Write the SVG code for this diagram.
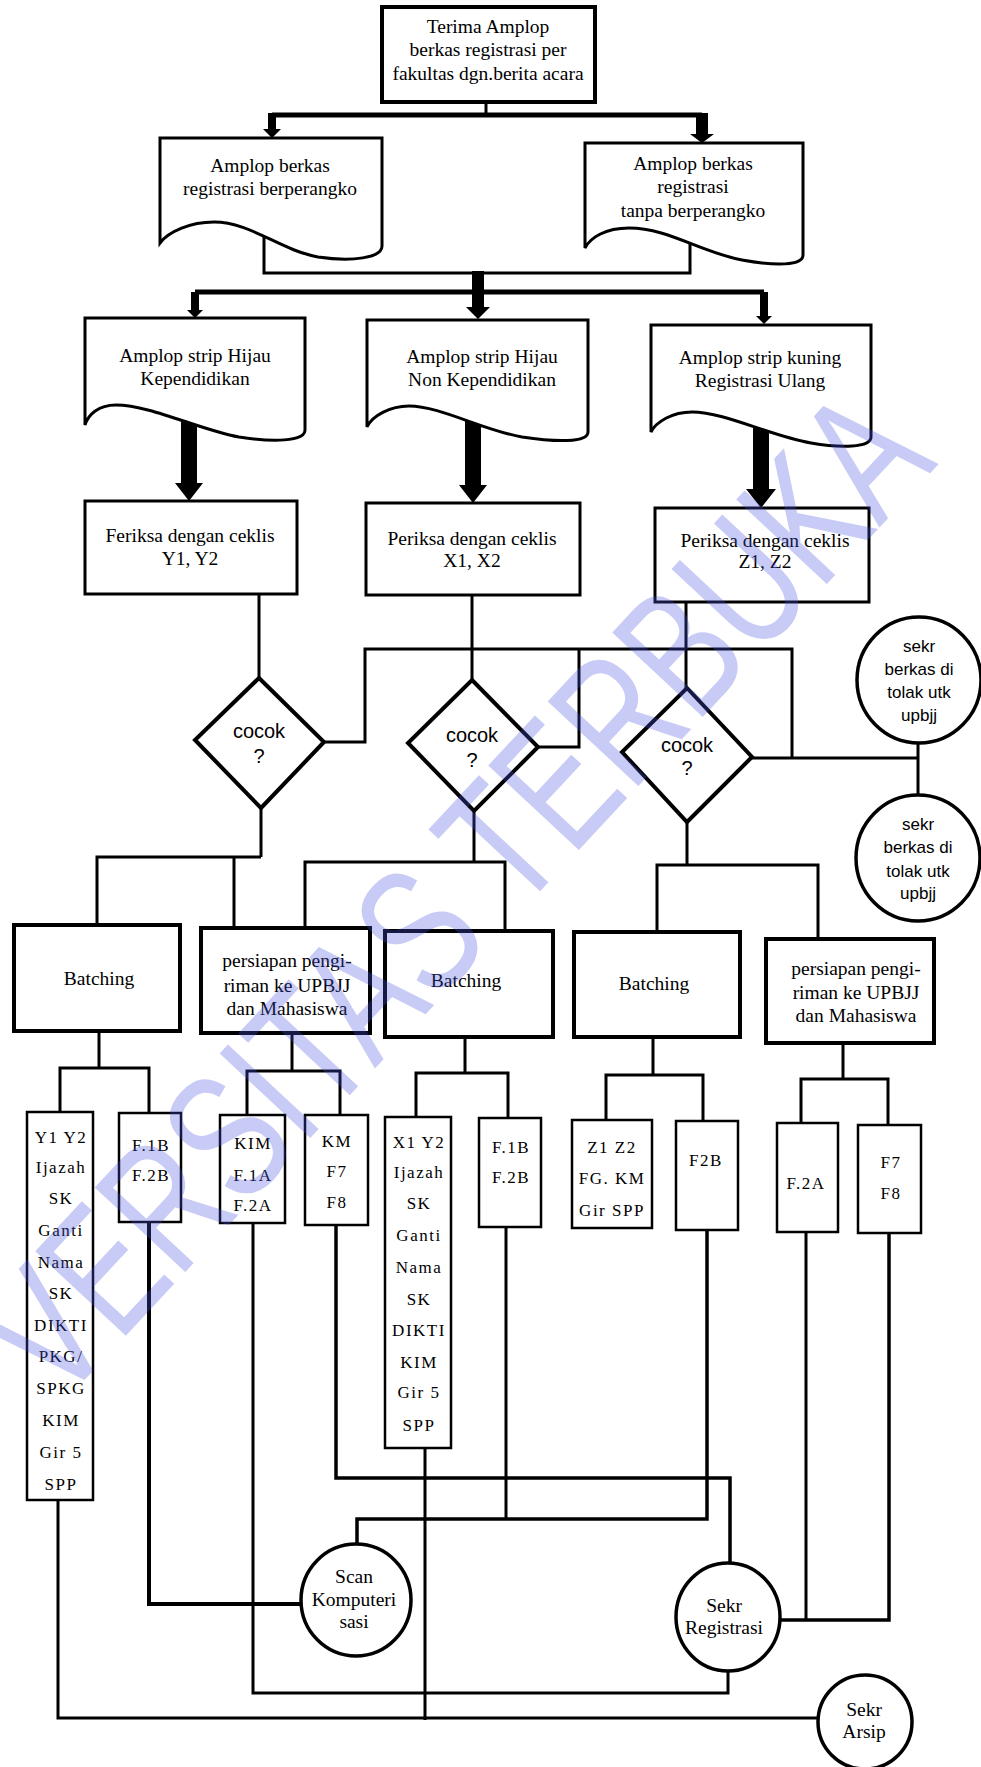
<svg xmlns="http://www.w3.org/2000/svg" width="981" height="1767" viewBox="0 0 981 1767">
<style>
.ln{fill:none;stroke:#000;stroke-width:3}
.tk{fill:none;stroke:#000;stroke-width:5}
.ar{fill:#000;stroke:none}
.box{fill:#fff;stroke:#000;stroke-width:3}
.bbox{fill:#fff;stroke:#000;stroke-width:4}
.sbox{fill:#fff;stroke:#000;stroke-width:2.5}
.dia{fill:#fff;stroke:#000;stroke-width:4}
.cir{fill:#fff;stroke:#000;stroke-width:3.5}
.t{font-family:"Liberation Serif",serif;font-size:19.5px;text-anchor:middle;fill:#000}
.c{font-family:"Liberation Sans",sans-serif;font-size:20px;text-anchor:middle;fill:#000}
.s{font-family:"Liberation Sans",sans-serif;font-size:17px;text-anchor:middle;fill:#000}
.sm{font-family:"Liberation Serif",serif;font-size:17px;letter-spacing:1.5px;text-anchor:middle;fill:#000}
.wm{font-family:"Liberation Sans",sans-serif;font-size:180px;fill:#4a55e0;opacity:0.3}
</style>
<rect width="981" height="1767" fill="#fff"/>
<g id="connectors">
<path class="ln" d="M486,102 V115"/>
<path class="tk" d="M272,115 H702"/>
<polygon class="ar" points="268,113 276,113 276,129 281,129 272,138 263,129 268,129"/>
<polygon class="ar" points="696,113 708,113 708,134 714,134 702,143 690,134 696,134"/>
<path class="ln" d="M264,230 V273 H690 V240"/>
<polygon class="ar" points="472,271 484,271 484,307 490,307 478,319 466,307 472,307"/>
<path class="tk" d="M195,292 H764"/>
<polygon class="ar" points="191,292 199,292 199,310 203,310 195,318 187,310 191,310"/>
<polygon class="ar" points="760,292 768,292 768,316 772,316 764,324 756,316 760,316"/>
<polygon class="ar" points="181,415 197,415 197,483 203,483 189,501 175,483 181,483"/>
<polygon class="ar" points="465,415 481,415 481,485 487,485 473,503 459,485 465,485"/>
<polygon class="ar" points="753,420 769,420 769,489 776,489 761,508 746,489 753,489"/>
<path class="ln" d="M259,594 V680"/>
<path class="ln" d="M472,595 V682"/>
<path class="ln" d="M686,602 V690"/>
<path class="ln" d="M324,742 H365 V649 H792 V758"/>
<path class="ln" d="M538,747 H579 V649"/>
<path class="ln" d="M752,758 H918"/>
<path class="ln" d="M918,740 V797"/>
<path class="ln" d="M261,808 V857"/>
<path class="ln" d="M97,925 V857 H261"/>
<path class="ln" d="M234,857 V928"/>
<path class="ln" d="M474,811 V862"/>
<path class="ln" d="M305,928 V862 H505 V931"/>
<path class="ln" d="M687,822 V865"/>
<path class="ln" d="M657,932 V865 H818 V939"/>
<path class="ln" d="M99,1031 V1068"/>
<path class="ln" d="M60,1112 V1068 H149 V1113"/>
<path class="ln" d="M292,1033 V1071"/>
<path class="ln" d="M247,1115 V1071 H340 V1115"/>
<path class="ln" d="M465,1037 V1073"/>
<path class="ln" d="M416,1117 V1073 H508 V1118"/>
<path class="ln" d="M653,1037 V1075"/>
<path class="ln" d="M606,1120 V1075 H703 V1121"/>
<path class="ln" d="M843,1043 V1079"/>
<path class="ln" d="M801,1123 V1079 H888 V1125"/>
<path class="ln" d="M149,1222 V1604 H302" style="stroke-width:4"/>
<path class="ln" d="M253,1223 V1693 H728 V1670"/>
<path class="ln" d="M336,1225 V1478 H730 V1563" style="stroke-width:3.5"/>
<path class="ln" d="M425,1448 V1720"/>
<path class="ln" d="M506,1227 V1519"/>
<path class="ln" d="M357,1546 V1519 H707 V1230" style="stroke-width:3.5"/>
<path class="ln" d="M806,1232 V1620"/>
<path class="ln" d="M778,1620 H889 V1233" style="stroke-width:3.5"/>
<path class="ln" d="M58,1500 V1718 H818"/>
</g>
<g id="n-terima">
<rect class="bbox" x="382" y="7" width="213" height="95"/>
<text class="t" x="488" y="33">Terima Amplop</text>
<text class="t" x="488" y="56">berkas registrasi per</text>
<text class="t" x="488" y="80">fakultas dgn.berita acara</text>
</g>
<g id="n-berperangko">
<path class="box" d="M160,138 H382 V246 C382,258 352,262 318,257 C280,250 250,222 214,222 C190,222 168,232 160,243 Z"/>
<text class="t" x="270" y="172">Amplop berkas</text>
<text class="t" x="270" y="195">registrasi berperangko</text>
</g>
<g id="n-tanpa">
<path class="box" d="M585,143 H803 V255 C803,266 775,266 742,260 C700,252 668,228 629,228 C605,228 590,238 585,248 Z"/>
<text class="t" x="693" y="170">Amplop berkas</text>
<text class="t" x="693" y="193">registrasi</text>
<text class="t" x="693" y="217">tanpa berperangko</text>
</g>
<g id="n-hijau-kep">
<path class="box" d="M85,318 H305 V430 C305,442 272,442 239,437 C200,430 150,405 116,405 C98,405 88,415 85,425 Z"/>
<text class="t" x="195" y="362">Amplop strip Hijau</text>
<text class="t" x="195" y="385">Kependidikan</text>
</g>
<g id="n-hijau-nonkep">
<path class="box" d="M367,320 H588 V432 C588,443 555,442 522,437 C482,430 440,406 409,406 C390,406 372,416 367,427 Z"/>
<text class="t" x="482" y="363">Amplop strip Hijau</text>
<text class="t" x="482" y="386">Non Kependidikan</text>
</g>
<g id="n-kuning">
<path class="box" d="M651,325 H871 V437 C871,448 840,448 811,443 C770,436 725,412 692,412 C672,412 656,422 651,432 Z"/>
<text class="t" x="760" y="364">Amplop strip kuning</text>
<text class="t" x="760" y="387">Registrasi Ulang</text>
</g>
<g id="n-periksa-y">
<rect class="box" x="85" y="501" width="212" height="93"/>
<text class="t" x="190" y="542">Feriksa dengan ceklis</text>
<text class="t" x="190" y="565">Y1,  Y2</text>
</g>
<g id="n-periksa-x">
<rect class="box" x="366" y="503" width="214" height="92"/>
<text class="t" x="472" y="545">Periksa dengan ceklis</text>
<text class="t" x="472" y="567">X1,  X2</text>
</g>
<g id="n-periksa-z">
<rect class="box" x="655" y="508" width="214" height="94"/>
<text class="t" x="765" y="547">Periksa dengan ceklis</text>
<text class="t" x="765" y="568">Z1,  Z2</text>
</g>
<g id="n-cocok1">
<polygon class="dia" points="259,678 324,742 261,808 195,740"/>
<text class="c" x="259" y="738">cocok</text>
<text class="c" x="259" y="763">?</text>
</g>
<g id="n-cocok2">
<polygon class="dia" points="472,680 538,747 474,811 408,743"/>
<text class="c" x="472" y="742">cocok</text>
<text class="c" x="472" y="767">?</text>
</g>
<g id="n-cocok3">
<polygon class="dia" points="687,688 752,757 687,822 622,752"/>
<text class="c" x="687" y="752">cocok</text>
<text class="c" x="687" y="775">?</text>
</g>
<g id="n-tolak1">
<ellipse class="cir" cx="919" cy="680" rx="62" ry="63"/>
<text class="s" x="919" y="652">sekr</text>
<text class="s" x="919" y="675">berkas di</text>
<text class="s" x="919" y="698">tolak  utk</text>
<text class="s" x="919" y="721">upbjj</text>
</g>
<g id="n-tolak2">
<ellipse class="cir" cx="918" cy="858" rx="62" ry="63"/>
<text class="s" x="918" y="830">sekr</text>
<text class="s" x="918" y="853">berkas di</text>
<text class="s" x="918" y="877">tolak  utk</text>
<text class="s" x="918" y="899">upbjj</text>
</g>
<g id="n-batching1">
<rect class="bbox" x="14" y="925" width="166" height="106"/>
<text class="t" x="99" y="985">Batching</text>
</g>
<g id="n-persiapan1">
<rect class="bbox" x="201" y="928" width="169" height="105"/>
<text class="t" x="287" y="967">persiapan pengi-</text>
<text class="t" x="287" y="992">riman  ke  UPBJJ</text>
<text class="t" x="287" y="1015">dan Mahasiswa</text>
</g>
<g id="n-batching2">
<rect class="bbox" x="385" y="931" width="168" height="106"/>
<text class="t" x="466" y="987">Batching</text>
</g>
<g id="n-batching3">
<rect class="bbox" x="574" y="932" width="166" height="105"/>
<text class="t" x="654" y="990">Batching</text>
</g>
<g id="n-persiapan2">
<rect class="bbox" x="766" y="939" width="168" height="104"/>
<text class="t" x="856" y="975">persiapan pengi-</text>
<text class="t" x="856" y="999">riman  ke  UPBJJ</text>
<text class="t" x="856" y="1022">dan Mahasiswa</text>
</g>
<g id="n-dok-y">
<rect class="sbox" x="27" y="1112" width="66" height="388"/>
<text class="sm" x="61" y="1143">Y1  Y2</text>
<text class="sm" x="61" y="1173">Ijazah</text>
<text class="sm" x="61" y="1204">SK</text>
<text class="sm" x="61" y="1236">Ganti</text>
<text class="sm" x="61" y="1268">Nama</text>
<text class="sm" x="61" y="1299">SK</text>
<text class="sm" x="61" y="1331">DIKTI</text>
<text class="sm" x="61" y="1362">PKG/</text>
<text class="sm" x="61" y="1394">SPKG</text>
<text class="sm" x="61" y="1426">KIM</text>
<text class="sm" x="61" y="1458">Gir 5</text>
<text class="sm" x="61" y="1490">SPP</text>
</g>
<g id="n-f1b-y">
<rect class="sbox" x="119" y="1113" width="62" height="109"/>
<text class="sm" x="151" y="1151">F.1B</text>
<text class="sm" x="151" y="1181">F.2B</text>
</g>
<g id="n-kim">
<rect class="sbox" x="220" y="1115" width="65" height="108"/>
<text class="sm" x="253" y="1149">KIM</text>
<text class="sm" x="253" y="1181">F.1A</text>
<text class="sm" x="253" y="1211">F.2A</text>
</g>
<g id="n-km">
<rect class="sbox" x="305" y="1115" width="63" height="110"/>
<text class="sm" x="337" y="1147">KM</text>
<text class="sm" x="337" y="1177">F7</text>
<text class="sm" x="337" y="1208">F8</text>
</g>
<g id="n-dok-x">
<rect class="sbox" x="385" y="1117" width="66" height="331"/>
<text class="sm" x="419" y="1148">X1  Y2</text>
<text class="sm" x="419" y="1178">Ijazah</text>
<text class="sm" x="419" y="1209">SK</text>
<text class="sm" x="419" y="1241">Ganti</text>
<text class="sm" x="419" y="1273">Nama</text>
<text class="sm" x="419" y="1305">SK</text>
<text class="sm" x="419" y="1336">DIKTI</text>
<text class="sm" x="419" y="1368">KIM</text>
<text class="sm" x="419" y="1398">Gir 5</text>
<text class="sm" x="419" y="1431">SPP</text>
</g>
<g id="n-f1b-x">
<rect class="sbox" x="479" y="1118" width="62" height="109"/>
<text class="sm" x="511" y="1153">F.1B</text>
<text class="sm" x="511" y="1183">F.2B</text>
</g>
<g id="n-dok-z">
<rect class="sbox" x="572" y="1120" width="80" height="108"/>
<text class="sm" x="612" y="1153">Z1 Z2</text>
<text class="sm" x="612" y="1184">FG.  KM</text>
<text class="sm" x="612" y="1216">Gir SPP</text>
</g>
<g id="n-f2b">
<rect class="sbox" x="676" y="1121" width="62" height="109"/>
<text class="sm" x="706" y="1166">F2B</text>
</g>
<g id="n-f2a">
<rect class="sbox" x="777" y="1123" width="61" height="109"/>
<text class="sm" x="806" y="1189">F.2A</text>
</g>
<g id="n-f7">
<rect class="sbox" x="858" y="1125" width="63" height="108"/>
<text class="sm" x="891" y="1168">F7</text>
<text class="sm" x="891" y="1199">F8</text>
</g>
<g id="n-scan">
<ellipse class="cir" cx="356" cy="1600" rx="55" ry="56"/>
<text class="t" x="354" y="1583">Scan</text>
<text class="t" x="354" y="1606">Komputeri</text>
<text class="t" x="354" y="1628">sasi</text>
</g>
<g id="n-sekr-reg">
<ellipse class="cir" cx="728" cy="1617" rx="52" ry="54"/>
<text class="t" x="724" y="1612">Sekr</text>
<text class="t" x="724" y="1634">Registrasi</text>
</g>
<g id="n-sekr-arsip">
<ellipse class="cir" cx="865" cy="1722" rx="47" ry="47"/>
<text class="t" x="864" y="1716">Sekr</text>
<text class="t" x="864" y="1738">Arsip</text>
</g>
<g id="watermark">
<text class="wm" transform="translate(452,892) rotate(-47)" x="0" y="64" text-anchor="middle" textLength="1290" lengthAdjust="spacingAndGlyphs">VERSITAS TERBUKA</text>
</g>
</svg>
